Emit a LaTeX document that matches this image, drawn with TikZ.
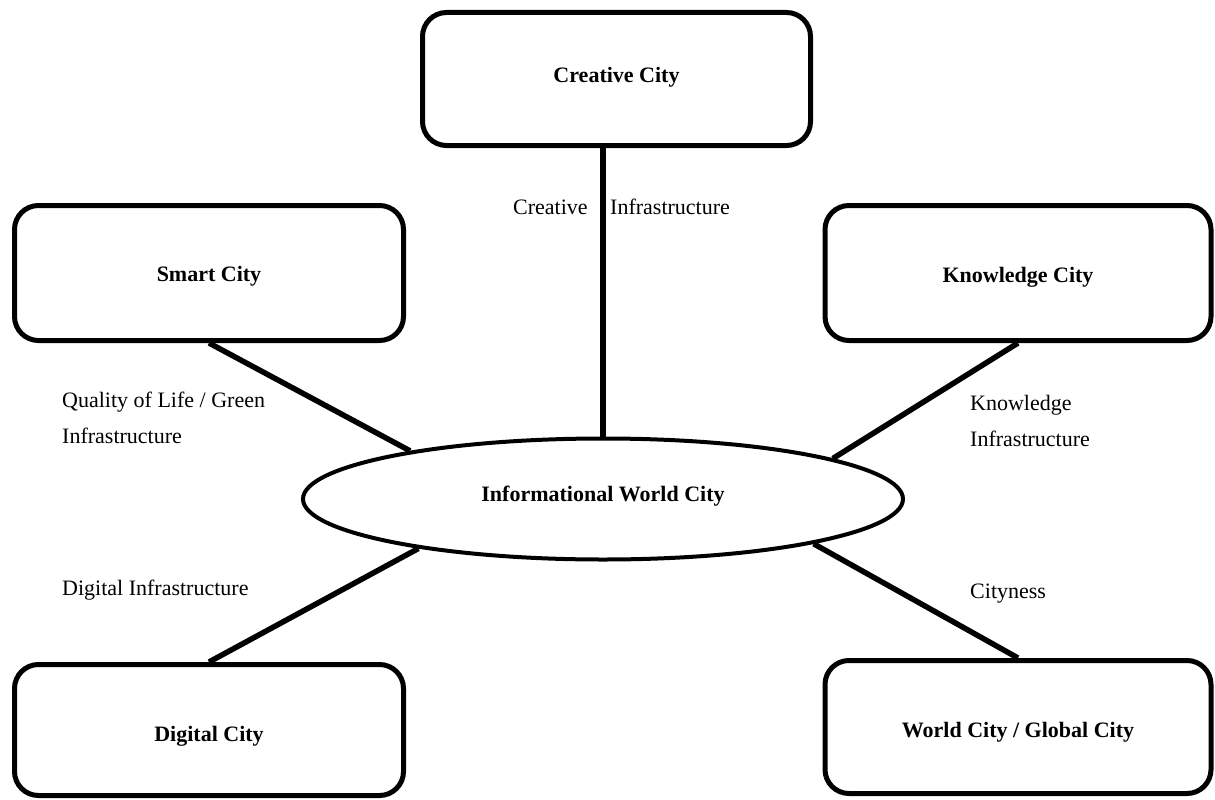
\documentclass[tikz,border=0pt]{standalone}
\usepackage{fontspec}
\setmainfont{Liberation Serif}
\usetikzlibrary{shapes.geometric}
\newcommand{\shiftedtext}[2]{\raisebox{#1}[0pt][0pt]{#2}}
\begin{document}
\begin{tikzpicture}[x=1pt,y=-1pt,
  citybox/.style={draw, line width=5pt, rounded corners=24pt, inner sep=0pt,
    font=\fontsize{22}{26}\selectfont\bfseries},
  hub/.style={draw, ellipse, line width=4pt, inner sep=0pt, minimum width=600pt, minimum height=121pt,
    font=\fontsize{22}{26}\selectfont\bfseries},
  link/.style={line width=5.5pt},
  lab/.style={anchor=base west, inner sep=0pt, font=\fontsize{22}{26}\selectfont}]
\useasboundingbox (0,0) rectangle (1215,800);
\node[citybox, minimum width=388pt, minimum height=133pt] (creative) at (616.5,79) {\shiftedtext{-3.8pt}{Creative City}};
\node[citybox, minimum width=389pt, minimum height=135pt] (smart) at (209,273) {\shiftedtext{-8.8pt}{Smart City}};
\node[citybox, minimum width=386pt, minimum height=135pt] (knowledge) at (1018,273) {\shiftedtext{-9.6pt}{Knowledge City}};
\node[citybox, minimum width=389pt, minimum height=131pt] (digital) at (209,730) {\shiftedtext{-11.3pt}{Digital City}};
\node[citybox, minimum width=386pt, minimum height=133pt] (world) at (1018,727) {\shiftedtext{-10.6pt}{World City / Global City}};
\node[hub] (info) at (603,499) {\shiftedtext{-2.8pt}{Informational World City}};

\draw[link] (info.north |- creative.south) -- (info.north);
\draw[link] (smart.south) -- (info.166.4);
\draw[link] (knowledge.south) -- (info.10.3);
\draw[link] (digital.north) -- (info.195.3);
\draw[link] (world.north) -- (info.348.6);

\node[lab] (l1) at (513,214) {Creative};
\node[lab] (l2) at (610,214) {Infrastructure};
\node[lab] (l3) at (62,407) {Quality of Life / Green};
\node[lab] (l4) at (62,443) {Infrastructure};
\node[lab] (l5) at (970,410) {Knowledge};
\node[lab] (l6) at (970,446) {Infrastructure};
\node[lab] (l7) at (62,595) {Digital Infrastructure};
\node[lab] (l8) at (970,598) {Cityness};
\end{tikzpicture}
\end{document}
